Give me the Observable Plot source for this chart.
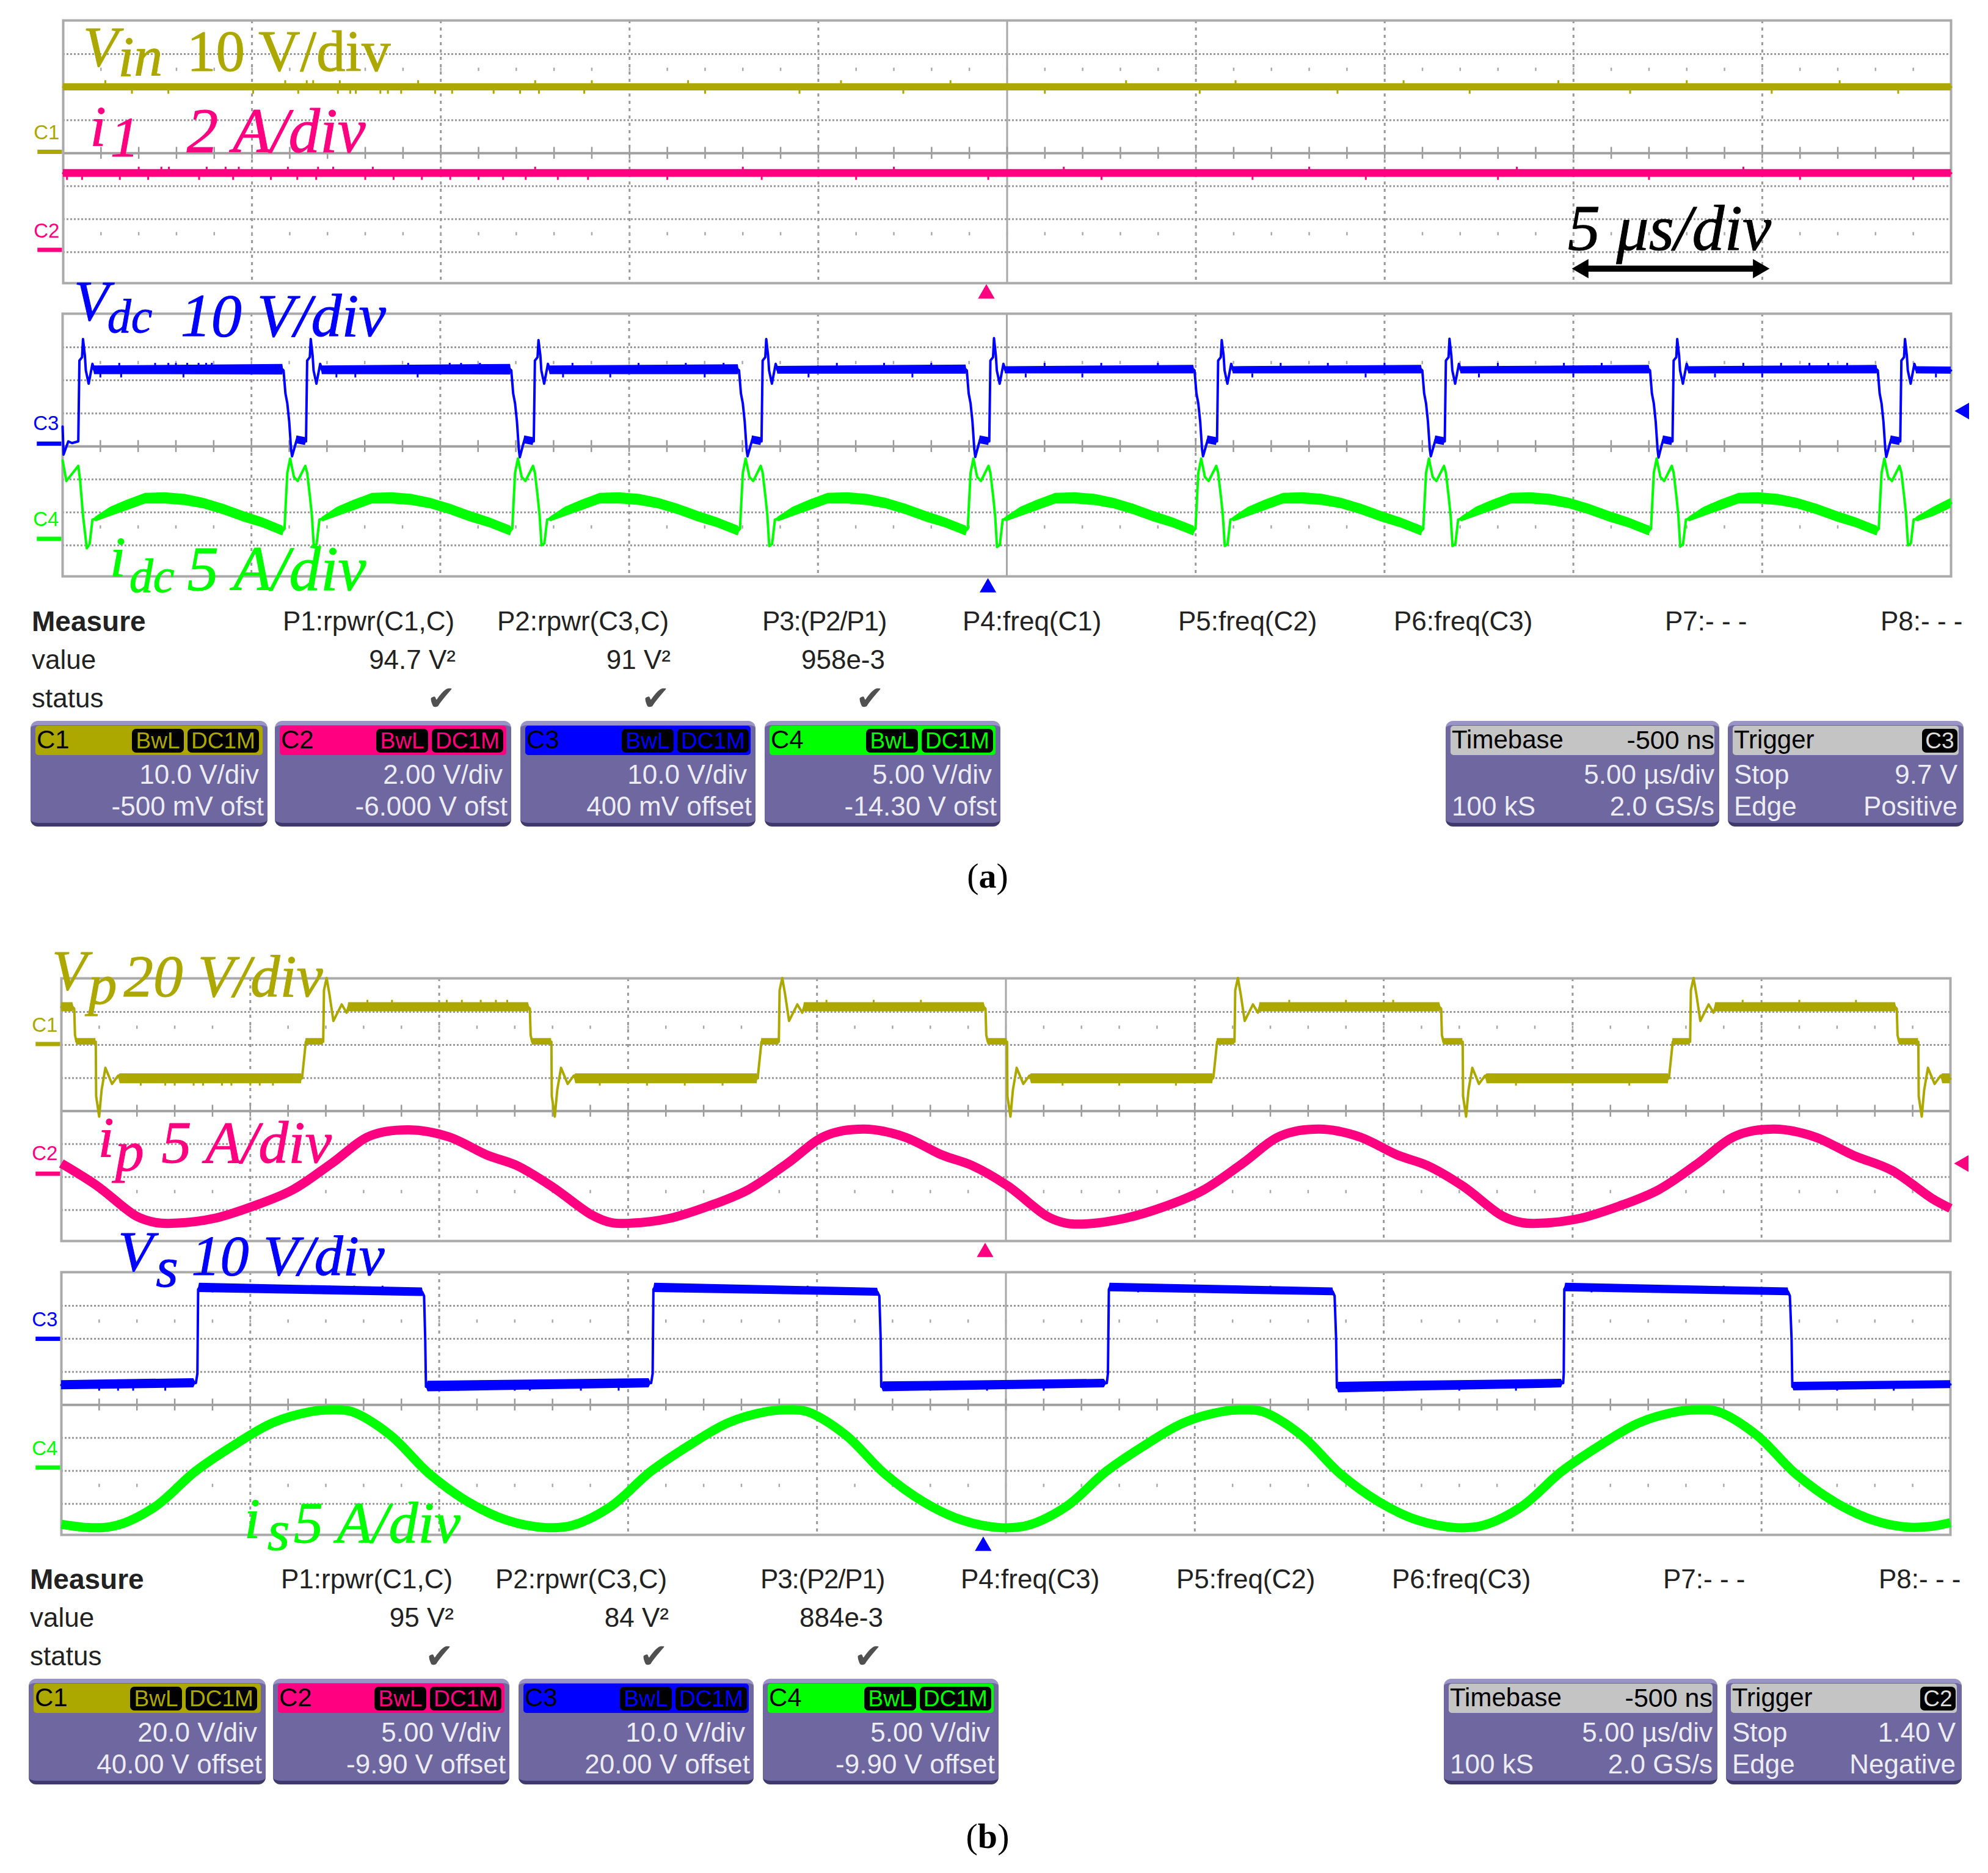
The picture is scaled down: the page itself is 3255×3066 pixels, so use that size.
<!DOCTYPE html>
<html>
<head>
<meta charset="utf-8">
<script src="https://cdn.jsdelivr.net/npm/d3@7"></script>
<script src="https://cdn.jsdelivr.net/npm/@observablehq/plot@0.6"></script>
<style>
html, body { margin: 0; background: white; }
body { position: relative; width: 3255px; height: 3066px; overflow: hidden; font-family: "Liberation Sans", sans-serif; }
.scope { position: absolute; background: transparent; overflow: visible; }
.t { position: absolute; white-space: nowrap; line-height: 1; }
</style>
</head>
<body>
<script>
// all traces are [time in div, level in div, half width of the noisy band in div]

const vin = [[0, 2, .11], [10, 2, .11]]
const vinSpikesUp = [.223, 1.176, 1.29, 1.324, 1.465, 1.88, 2.5, 2.8, 3.31, 4.12, 4.7, 5.63, 6.21, 7.1, 7.92, 8.6, 9.41]
const vinSpikesDown = [.364, .557, 1.006, 1.245, 1.455, 1.52, 1.55, 1.68, 1.72, 1.79, 1.97, 2.06, 2.28, 2.42, 2.52, 2.76, 3.4, 3.9, 4.45, 5.2, 6.02, 6.75, 7.45, 8.3, 9.05, 9.72]
const i1 = [[0, -.61, .12], [10, -.61, .12]]
const i1SpikesUp = [.4, .52, .56, .76, .86, .93, 1.19, 1.35, 1.43, 1.64, 2.5, 3.6, 4.4, 5.3, 6.6, 7.7, 8.9]
const i1SpikesDown = [.02, .1, .3, .45, .72, .9, 1.1, 1.24, 1.34, 1.6, 1.75, 1.9, 2.05, 2.2, 2.33, 2.45, 2.62, 2.78, 3.2, 3.7, 4.2, 4.9, 5.5, 6.3, 6.9, 7.6, 8.4, 9.2, 9.8]

const vdc = [
  [0, .6], [.005, -.25], [.03, .15], [.05, .1],
  [.083, .15], [.089, 2.6], [.103, 2.7], [.108, 3.25], [.118, 2.75], [.123, 2.3], [.138, 1.9], [.148, 2.2], [.158, 2.5], [.168, 2.31, .13],
  [1.165, 2.33, .16], [1.17, 2.3], [1.18, 1.6], [1.19, 1.3], [1.2, .75], [1.21, -.1], [1.215, -.3], [1.23, 0], [1.24, .2, .12], [1.285, .15, .12],
  [1.289, .15], [1.295, 2.6], [1.309, 2.7], [1.314, 3.25], [1.324, 2.75], [1.329, 2.3], [1.344, 1.9], [1.354, 2.2], [1.364, 2.5], [1.374, 2.31, .13],
  [2.371, 2.33, .16], [2.376, 2.3], [2.386, 1.6], [2.396, 1.3], [2.406, .75], [2.416, -.1], [2.421, -.33], [2.436, 0], [2.446, .2, .12], [2.491, .15, .12],
  [2.495, .15], [2.501, 2.6], [2.515, 2.7], [2.52, 3.22], [2.53, 2.75], [2.535, 2.3], [2.55, 1.9], [2.56, 2.2], [2.57, 2.5], [2.58, 2.31, .13],
  [3.577, 2.33, .15], [3.582, 2.3], [3.592, 1.6], [3.602, 1.3], [3.612, .75], [3.622, -.1], [3.627, -.3], [3.642, 0], [3.652, .2, .12], [3.697, .15, .12],
  [3.701, .15], [3.707, 2.6], [3.721, 2.7], [3.726, 3.25], [3.736, 2.75], [3.741, 2.3], [3.756, 1.9], [3.766, 2.2], [3.776, 2.5], [3.786, 2.31, .12],
  [4.783, 2.33, .14], [4.788, 2.3], [4.798, 1.6], [4.808, 1.3], [4.818, .75], [4.828, -.1], [4.833, -.32], [4.848, 0], [4.858, .2, .12], [4.903, .15, .12],
  [4.907, .15], [4.913, 2.6], [4.927, 2.7], [4.932, 3.28], [4.942, 2.75], [4.947, 2.3], [4.962, 1.9], [4.972, 2.2], [4.982, 2.5], [4.992, 2.31, .11],
  [5.989, 2.33, .13], [5.994, 2.3], [6.004, 1.6], [6.014, 1.3], [6.024, .75], [6.034, -.1], [6.039, -.3], [6.054, 0], [6.064, .2, .12], [6.109, .15, .12],
  [6.113, .15], [6.119, 2.6], [6.133, 2.7], [6.138, 3.22], [6.148, 2.75], [6.153, 2.3], [6.168, 1.9], [6.178, 2.2], [6.188, 2.5], [6.198, 2.31, .11],
  [7.195, 2.33, .13], [7.2, 2.3], [7.21, 1.6], [7.22, 1.3], [7.23, .75], [7.24, -.1], [7.245, -.3], [7.26, 0], [7.27, .2, .12], [7.315, .15, .12],
  [7.319, .15], [7.325, 2.6], [7.339, 2.7], [7.344, 3.26], [7.354, 2.75], [7.359, 2.3], [7.374, 1.9], [7.384, 2.2], [7.394, 2.5], [7.404, 2.31, .11],
  [8.401, 2.33, .13], [8.406, 2.3], [8.416, 1.6], [8.426, 1.3], [8.436, .75], [8.446, -.1], [8.451, -.34], [8.466, 0], [8.476, .2, .12], [8.521, .15, .12],
  [8.525, .15], [8.531, 2.6], [8.545, 2.7], [8.55, 3.25], [8.56, 2.75], [8.565, 2.3], [8.58, 1.9], [8.59, 2.2], [8.6, 2.5], [8.61, 2.31, .11],
  [9.607, 2.33, .13], [9.612, 2.3], [9.622, 1.6], [9.632, 1.3], [9.642, .75], [9.652, -.1], [9.657, -.32], [9.672, 0], [9.682, .2, .12], [9.727, .15, .12],
  [9.731, .15], [9.737, 2.6], [9.751, 2.7], [9.756, 3.25], [9.766, 2.75], [9.771, 2.3], [9.786, 1.9], [9.796, 2.2], [9.806, 2.5], [9.816, 2.31, .11], [10, 2.3, .11]
]
const vdcSpikesUp = [.3, .49, .56, .6, .66, .72, .76, .79, 1.83, 2.05, 2.11, 2.21, 2.7, 3.05, 3.3, 3.5, 4.1, 4.35, 4.6, 5.2, 5.5, 5.8, 6.45, 6.7, 7.0, 7.6, 7.95, 8.15, 8.9, 9.1, 9.25, 9.35, 9.45]
const vdcSpikesDown = [.2, .31, .64, 1.45, 1.55, 1.88, 2.65, 2.9, 3.4, 3.95, 4.5, 5.1, 5.4, 6.3, 6.9, 7.5, 8.0, 8.75, 9.0, 9.92]

const idc = [
  [0, -.43], [.02, -1.05], [.083, -.59], [.093, -1.05], [.108, -2.1], [.128, -3.09], [.143, -2.96], [.158, -2.22],
  [.178, -2.2, .08], [.253, -1.98, .14], [.338, -1.79, .16], [.438, -1.58, .16], [.543, -1.57, .17], [.648, -1.62, .17], [.748, -1.73, .16], [.853, -1.91, .16], [.958, -2.13, .16], [1.058, -2.31, .15],
  [1.165, -2.56, .15], [1.175, -2.5], [1.18, -1.91], [1.19, -.8], [1.205, -.37], [1.225, -.93], [1.245, -1.05], [1.285, -.59], [1.295, -.8], [1.31, -1.54], [1.32, -2.1], [1.33, -3.02], [1.345, -2.96], [1.36, -2.22],
  [1.38, -2.2, .08], [1.455, -1.98, .14], [1.54, -1.79, .16], [1.64, -1.58, .16], [1.745, -1.57, .17], [1.85, -1.62, .17], [1.95, -1.73, .16], [2.055, -1.91, .16], [2.16, -2.13, .16], [2.26, -2.31, .15],
  [2.371, -2.56, .15], [2.381, -2.5], [2.386, -1.91], [2.396, -.8], [2.411, -.37], [2.431, -.93], [2.451, -1.05], [2.491, -.59], [2.501, -.8], [2.516, -1.54], [2.526, -2.1], [2.536, -3], [2.551, -2.94], [2.566, -2.22],
  [2.586, -2.2, .08], [2.661, -1.98, .14], [2.746, -1.79, .16], [2.846, -1.58, .16], [2.951, -1.57, .17], [3.056, -1.62, .17], [3.156, -1.73, .16], [3.261, -1.91, .16], [3.366, -2.13, .16], [3.466, -2.31, .15],
  [3.577, -2.56, .15], [3.587, -2.5], [3.592, -1.91], [3.602, -.8], [3.617, -.37], [3.637, -.93], [3.657, -1.05], [3.697, -.59], [3.707, -.8], [3.722, -1.54], [3.732, -2.1], [3.742, -3.02], [3.757, -2.96], [3.772, -2.22],
  [3.792, -2.2, .08], [3.867, -1.98, .14], [3.952, -1.79, .16], [4.052, -1.58, .16], [4.157, -1.57, .17], [4.262, -1.62, .17], [4.362, -1.73, .16], [4.467, -1.91, .16], [4.572, -2.13, .16], [4.672, -2.31, .15],
  [4.783, -2.56, .15], [4.793, -2.5], [4.798, -1.91], [4.808, -.8], [4.823, -.37], [4.843, -.93], [4.863, -1.05], [4.903, -.59], [4.913, -.8], [4.928, -1.54], [4.938, -2.1], [4.948, -3.05], [4.963, -2.98], [4.978, -2.22],
  [4.998, -2.2, .08], [5.073, -1.98, .14], [5.158, -1.79, .16], [5.258, -1.58, .16], [5.363, -1.57, .17], [5.468, -1.62, .17], [5.568, -1.73, .16], [5.673, -1.91, .16], [5.778, -2.13, .16], [5.878, -2.31, .15],
  [5.989, -2.56, .15], [5.999, -2.5], [6.004, -1.91], [6.014, -.8], [6.029, -.37], [6.049, -.93], [6.069, -1.05], [6.109, -.59], [6.119, -.8], [6.134, -1.54], [6.144, -2.1], [6.154, -3.02], [6.169, -2.96], [6.184, -2.22],
  [6.204, -2.2, .08], [6.279, -1.98, .14], [6.364, -1.79, .16], [6.464, -1.58, .16], [6.569, -1.57, .17], [6.674, -1.62, .17], [6.774, -1.73, .16], [6.879, -1.91, .16], [6.984, -2.13, .16], [7.084, -2.31, .15],
  [7.195, -2.56, .15], [7.205, -2.5], [7.21, -1.91], [7.22, -.8], [7.235, -.37], [7.255, -.93], [7.275, -1.05], [7.315, -.59], [7.325, -.8], [7.34, -1.54], [7.35, -2.1], [7.36, -3.02], [7.375, -2.96], [7.39, -2.22],
  [7.41, -2.2, .08], [7.485, -1.98, .14], [7.57, -1.79, .16], [7.67, -1.58, .16], [7.775, -1.57, .17], [7.88, -1.62, .17], [7.98, -1.73, .16], [8.085, -1.91, .16], [8.19, -2.13, .16], [8.29, -2.31, .15],
  [8.401, -2.56, .15], [8.411, -2.5], [8.416, -1.91], [8.426, -.8], [8.441, -.37], [8.461, -.93], [8.481, -1.05], [8.521, -.59], [8.531, -.8], [8.546, -1.54], [8.556, -2.1], [8.566, -3.04], [8.581, -2.96], [8.596, -2.22],
  [8.616, -2.2, .08], [8.691, -1.98, .14], [8.776, -1.79, .16], [8.876, -1.58, .16], [8.981, -1.57, .17], [9.086, -1.62, .17], [9.186, -1.73, .16], [9.291, -1.91, .16], [9.396, -2.13, .16], [9.496, -2.31, .15],
  [9.607, -2.56, .15], [9.617, -2.5], [9.622, -1.91], [9.632, -.8], [9.647, -.37], [9.667, -.93], [9.687, -1.05], [9.727, -.59], [9.737, -.8], [9.752, -1.54], [9.762, -2.1], [9.772, -3], [9.787, -2.94], [9.802, -2.22],
  [9.822, -2.2, .08], [9.907, -1.98, .14], [10, -1.72, .15]
]

const vp = [
  [0, 3.15, .14], [.06, 3.15, .14], [.068, 3.1], [.072, 2.3], [.08, 2.1, .1], [.182, 2.1, .1], [.184, .45], [.2, -.17], [.213, .64], [.233, 1.31], [.268, .82], [.3, 1.07], [.31, .98, .15], [1.27, .98, .15],
  [1.274, 1], [1.294, 2.1, .1], [1.386, 2.1, .1], [1.39, 3.66], [1.404, 4.03], [1.419, 3.54], [1.44, 2.73], [1.484, 3.23], [1.51, 2.98], [1.52, 3.15, .14], [2.472, 3.15, .14],
  [2.48, 3.1], [2.484, 2.3], [2.492, 2.1, .1], [2.594, 2.1, .1], [2.596, .45], [2.612, -.17], [2.625, .64], [2.645, 1.31], [2.68, .82], [2.712, 1.07], [2.722, .98, .15], [3.682, .98, .15],
  [3.686, 1], [3.706, 2.1, .1], [3.798, 2.1, .1], [3.802, 3.66], [3.816, 4.03], [3.831, 3.54], [3.852, 2.73], [3.896, 3.23], [3.922, 2.98], [3.932, 3.15, .14], [4.884, 3.15, .14],
  [4.892, 3.1], [4.896, 2.3], [4.904, 2.1, .1], [5.006, 2.1, .1], [5.008, .45], [5.024, -.17], [5.037, .64], [5.057, 1.31], [5.092, .82], [5.124, 1.07], [5.134, .98, .15], [6.094, .98, .15],
  [6.098, 1], [6.118, 2.1, .1], [6.21, 2.1, .1], [6.214, 3.66], [6.228, 4.03], [6.243, 3.54], [6.264, 2.73], [6.308, 3.23], [6.334, 2.98], [6.344, 3.15, .14], [7.296, 3.15, .14],
  [7.304, 3.1], [7.308, 2.3], [7.316, 2.1, .1], [7.418, 2.1, .1], [7.42, .45], [7.436, -.17], [7.449, .64], [7.469, 1.31], [7.504, .82], [7.536, 1.07], [7.546, .98, .15], [8.506, .98, .15],
  [8.51, 1], [8.53, 2.1, .1], [8.622, 2.1, .1], [8.626, 3.66], [8.64, 4.03], [8.655, 3.54], [8.676, 2.73], [8.72, 3.23], [8.746, 2.98], [8.756, 3.15, .14], [9.708, 3.15, .14],
  [9.716, 3.1], [9.72, 2.3], [9.728, 2.1, .1], [9.83, 2.1, .1], [9.832, .45], [9.848, -.17], [9.861, .64], [9.881, 1.31], [9.916, .82], [9.948, 1.07], [9.958, .98, .15], [10, .98, .15]
]
const vpSpikesHigh = [1.62, 1.75, 2.04, 2.12, 2.22, 2.3, 2.36, 4.05, 4.3, 4.55, 6.5, 6.8, 7.05, 8.9, 9.2, 9.5]
const vpSpikesLow = [.42, .55, .6, .7, .75, .85, .9, 1.0, 1.05, 1.12, 2.85, 3.1, 3.3, 3.5, 5.3, 5.6, 5.9, 7.7, 8.0, 8.3]

const ip = [
  [0, -1.59], [.19, -2.27], [.398, -3.19], [.5, -3.38], [.605, -3.4], [.811, -3.25], [1.017, -2.88], [1.224, -2.39], [1.43, -1.59], [1.636, -.75], [1.84, -.57], [2.05, -.78], [2.255, -1.34],
  [2.41, -1.65], [2.6, -2.3], [2.808, -3.15], [2.91, -3.38], [3.015, -3.4], [3.221, -3.25], [3.427, -2.88], [3.634, -2.39], [3.84, -1.6], [4.046, -.75], [4.25, -.55], [4.46, -.78], [4.665, -1.34],
  [4.82, -1.65], [5.01, -2.27], [5.218, -3.19], [5.32, -3.4], [5.425, -3.42], [5.631, -3.25], [5.837, -2.9], [6.044, -2.4], [6.25, -1.6], [6.456, -.75], [6.66, -.55], [6.87, -.78], [7.075, -1.34],
  [7.23, -1.65], [7.42, -2.28], [7.628, -3.18], [7.73, -3.38], [7.835, -3.4], [8.041, -3.25], [8.247, -2.88], [8.454, -2.39], [8.66, -1.6], [8.866, -.75], [9.07, -.55], [9.28, -.78], [9.485, -1.34], [9.69, -1.8], [9.9, -2.64], [10, -2.95]
]

const vs = [
  [0, .6, .14], [.7, .66, .14], [.712, .66], [.72, .95], [.724, 3.5], [.73, 3.55, .14], [1.91, 3.42, .13], [1.92, 3.3], [1.926, 2], [1.93, .55], [1.94, .56, .16], [3.11, .66, .14],
  [3.122, .66], [3.13, .95], [3.134, 3.5], [3.14, 3.55, .14], [4.32, 3.42, .12], [4.33, 3.3], [4.337, 2], [4.34, .55], [4.35, .55, .15], [5.52, .65, .13],
  [5.534, .66], [5.54, .95], [5.545, 3.5], [5.55, 3.56, .13], [6.73, 3.43, .12], [6.74, 3.3], [6.748, 2], [6.752, .52], [6.76, .53, .16], [7.94, .65, .13],
  [7.95, .66], [7.953, .95], [7.956, 3.5], [7.962, 3.56, .13], [9.14, 3.43, .12], [9.15, 3.3], [9.159, 2], [9.163, .55], [9.17, .56, .13], [10, .62, .12]
]
const vsSpikesHigh = [.8, .96, 1.1, 1.27, 1.42, 1.55, 1.7, 3.3, 3.6, 3.95, 5.7, 6.1, 6.4, 8.1, 8.4, 8.8]
const vsSpikesLow = [.2, .3, .38, .55, 2.1, 2.4, 2.48, 2.75, 2.95, 4.6, 4.9, 5.2, 7.1, 7.4, 7.7, 9.4, 9.7]

const is = [
  [0, -3.62], [.15, -3.72], [.295, -3.65], [.5, -3.07], [.708, -2.02], [.914, -1.22], [1.12, -.54], [1.327, -.2], [1.43, -.15], [1.534, -.2], [1.74, -.91], [1.946, -2.08], [2.153, -2.94], [2.36, -3.5],
  [2.565, -3.72], [2.706, -3.65], [2.911, -3.07], [3.119, -2.02], [3.325, -1.22], [3.531, -.54], [3.738, -.2], [3.841, -.15], [3.945, -.2], [4.151, -.91], [4.357, -2.08], [4.564, -2.94], [4.771, -3.5],
  [4.97, -3.72], [5.117, -3.65], [5.322, -3.07], [5.53, -2.02], [5.736, -1.22], [5.942, -.54], [6.149, -.2], [6.252, -.15], [6.356, -.2], [6.562, -.91], [6.768, -2.08], [6.975, -2.94], [7.182, -3.5],
  [7.383, -3.72], [7.528, -3.65], [7.733, -3.07], [7.941, -2.02], [8.147, -1.22], [8.353, -.54], [8.56, -.2], [8.663, -.15], [8.767, -.2], [8.973, -.91], [9.179, -2.08], [9.386, -2.94], [9.593, -3.5], [9.76, -3.7], [9.9, -3.68], [10, -3.57]
]

const measureHeadA = ['P1:rpwr(C1,C)', 'P2:rpwr(C3,C)', 'P3:(P2/P1)', 'P4:freq(C1)', 'P5:freq(C2)', 'P6:freq(C3)', 'P7:- - -', 'P8:- - -']
const measureHeadB = ['P1:rpwr(C1,C)', 'P2:rpwr(C3,C)', 'P3:(P2/P1)', 'P4:freq(C3)', 'P5:freq(C2)', 'P6:freq(C3)', 'P7:- - -', 'P8:- - -']
const measureValueA = ['94.7 V²', '91 V²', '958e-3']
const measureValueB = ['95 V²', '84 V²', '884e-3']
const channelNames = ['C1', 'C2', 'C3', 'C4']
const channelScaleA = ['10.0 V/div', '2.00 V/div', '10.0 V/div', '5.00 V/div']
const channelOffsetA = ['-500 mV ofst', '-6.000 V ofst', '400 mV offset', '-14.30 V ofst']
const channelScaleB = ['20.0 V/div', '5.00 V/div', '10.0 V/div', '5.00 V/div']
const channelOffsetB = ['40.00 V offset', '-9.90 V offset', '20.00 V offset', '-9.90 V offset']

const OLIVE = '#ada800', PINK = '#ff0080', BLUE = '#0000ff', GREEN = '#00ff00'
const SERIF = '"Liberation Serif", serif'

const rows = trace => trace.map(([t, v, h]) => ({t, v, lo: v - (h || 0), hi: v + (h || 0)}))

// thin line for the edges, area for the noisy flat parts
function traceMarks(trace, color) {
  const data = rows(trace)
  return [
    Plot.areaY(data, {x: 't', y1: 'lo', y2: 'hi', fill: color}),
    Plot.line(data, {x: 't', y: 'v', stroke: color, strokeWidth: 4})
  ]
}

const smoothTrace = (trace, color) =>
  Plot.line(rows(trace), {x: 't', y: 'v', stroke: color, strokeWidth: 15, curve: 'catmull-rom', strokeLinecap: 'butt'})

const spikes = (times, y1, y2, color) => Plot.ruleX(times, {x: d => d, y1, y2, stroke: color, strokeWidth: 3})

function gridMarks() {
  const minor = d3.range(1, 50).map(d => d / 5)
  return [
    Plot.ruleY([-3, -2, -1, 1, 2, 3], {stroke: '#999', strokeWidth: 3, strokeDasharray: '3 3'}),
    Plot.ruleX([1, 2, 3, 4, 6, 7, 8, 9], {stroke: '#999', strokeWidth: 3, strokeDasharray: '5 7'}),
    Plot.ruleX([5], {stroke: '#a8a8a8', strokeWidth: 3}),
    Plot.ruleX(minor, {x: d => d, y1: 2.48, y2: 2.58, stroke: '#aaa', strokeWidth: 2.5}),
    Plot.ruleX(minor, {x: d => d, y1: -2.5, y2: -2.4, stroke: '#aaa', strokeWidth: 2.5}),
    Plot.ruleX(minor, {x: d => d, y1: -.18, y2: .18, stroke: '#999', strokeWidth: 2.5}),
    Plot.ruleY([0], {stroke: '#a0a0a0', strokeWidth: 4}),
    Plot.frame({stroke: '#aaa', strokeWidth: 4})
  ]
}

const word = (text, x, y, color, italic = true, size = 94) =>
  Plot.text([text], {text: d => d, x, y, fill: color, stroke: color, strokeWidth: 1, fontFamily: SERIF, fontSize: size, fontStyle: italic ? 'italic' : 'normal', textAnchor: 'start', lineAnchor: 'bottom'})

// channel tag left of the frame
const tag = (name, labelY, markY, color) => [
  Plot.text([name], {text: d => d, x: -.02, y: labelY, fill: color, fontSize: 33, textAnchor: 'end', fontFamily: '"Liberation Sans", sans-serif'}),
  Plot.ruleY([markY], {x1: -.135, x2: -.005, stroke: color, strokeWidth: 7})
]

const marker = (x, y, color, rotate, r = 13) => Plot.dot([0], {x, y, r, symbol: 'triangle2', fill: color, rotate})

function scope(left, top, right, marks) {
  const chart = Plot.plot({
    width: 3255, height: 474,
    marginLeft: left, marginRight: 3255 - right, marginTop: 4, marginBottom: 40,
    x: {domain: [0, 10], axis: null},
    y: {domain: [-3.94, 4.02], axis: null},
    marks: [gridMarks(), marks]
  })
  chart.classList.add('scope')
  chart.style.left = '0px'
  chart.style.top = (top - 4) + 'px'
  chart.style.background = 'transparent'
  chart.style.maxWidth = 'none'
  chart.style.overflow = 'visible'
  document.body.append(chart)
}

scope(103, 33, 3194, [
  traceMarks(vin, OLIVE), spikes(vinSpikesUp, 2.1, 2.2, OLIVE), spikes(vinSpikesDown, 1.9, 1.79, OLIVE),
  traceMarks(i1, PINK), spikes(i1SpikesUp, -.5, -.42, PINK), spikes(i1SpikesDown, -.72, -.82, PINK),
  tag('C1', .62, .04, OLIVE), tag('C2', -2.37, -2.93, PINK),
  word('V', .105, 2.65, OLIVE), word('in', .29, 2.35, OLIVE), word('10 V/div', .655, 2.5, OLIVE, false, 95),
  word('i', .142, .24, PINK), word('1', .25, -.09, PINK), word('2 A/div', .654, .04, PINK, true, 103),
  word('5 μs/div', 7.97, -2.94, 'black', true, 106),
  Plot.ruleY([-3.5], {x1: 8.05, x2: 8.98, stroke: 'black', strokeWidth: 10}),
  marker(8.05, -3.5, 'black', -90, 15), marker(8.98, -3.5, 'black', 90, 15),
  marker(4.89, -4.26, PINK, 0)
])

scope(102, 513, 3194, [
  traceMarks(vdc, BLUE), spikes(vdcSpikesUp, 2.4, 2.52, BLUE), spikes(vdcSpikesDown, 2.2, 2.08, BLUE),
  traceMarks(idc, GREEN),
  tag('C3', .68, .08, BLUE), tag('C4', -2.22, -2.8, GREEN),
  word('V', .06, 3.83, BLUE), word('dc', .237, 3.46, BLUE, true, 78), word('10 V/div', .625, 3.35, BLUE, true, 100),
  word('i', .25, -3.93, GREEN), word('dc', .353, -4.41, GREEN, true, 78), word('5 A/div', .66, -4.35, GREEN, true, 103),
  marker(4.9, -4.28, BLUE, 0), marker(10.07, 1.07, BLUE, -90)
])

scope(100, 1601, 3193, [
  traceMarks(vp, OLIVE), spikes(vpSpikesHigh, 3.25, 3.36, OLIVE), spikes(vpSpikesLow, .88, .76, OLIVE),
  smoothTrace(ip, PINK),
  tag('C1', 2.6, 2.03, OLIVE), tag('C2', -1.3, -1.9, PINK),
  word('V', -.05, 3.67, OLIVE), word('p', .142, 3.26, OLIVE), word('20 V/div', .33, 3.48, OLIVE, true, 97),
  word('i', .194, -1.37, PINK), word('p', .285, -1.8, PINK), word('5 A/div', .53, -1.56, PINK, true, 98),
  marker(4.89, -4.28, PINK, 0), marker(10.07, -1.59, PINK, -90)
])

scope(100, 2082, 3193, [
  traceMarks(vs, BLUE), spikes(vsSpikesHigh, 3.4, 3.6, BLUE), spikes(vsSpikesLow, .55, .42, BLUE),
  smoothTrace(is, GREEN),
  tag('C3', 2.58, 2, BLUE), tag('C4', -1.32, -1.9, GREEN),
  word('V', .3, 4.07, BLUE), word('s', .5, 3.59, BLUE), word('10 V/div', .689, 3.93, BLUE),
  word('i', .968, -4.02, GREEN), word('s', 1.09, -4.39, GREEN), word('5 A/div', 1.23, -4.17, GREEN, true, 96),
  marker(4.88, -4.28, BLUE, 0)
])

// scope read-out below each picture, plain html
function put(parent, text, left, top, opts = {}) {
  const el = document.createElement('div')
  el.className = 't'
  el.textContent = text
  el.style.left = left + 'px'
  el.style.top = top + 'px'
  el.style.fontSize = (opts.size || 44) + 'px'
  el.style.color = opts.color || '#222'
  if (opts.bold) el.style.fontWeight = 'bold'
  if (opts.font) el.style.fontFamily = opts.font
  if (opts.spacing) el.style.letterSpacing = opts.spacing + 'px'
  el.style.transform = `translate(${opts.right ? '-100%' : '0'}, -50%)`
  parent.append(el)
  return el
}

function box(left, top, width, headColor) {
  const el = document.createElement('div')
  el.style.cssText = `position:absolute;left:${left}px;top:${top}px;width:${width}px;height:173px;box-sizing:border-box;background:#6f67a0;border-radius:12px;border-top:7px solid #9a93c6;border-bottom:6px solid #3f3a6b;`
  const head = document.createElement('div')
  head.style.cssText = `position:absolute;left:8px;right:8px;top:1px;height:48px;background:${headColor};border-radius:5px;`
  el.append(head)
  document.body.append(el)
  return el
}

function chip(parent, text, left, width, color) {
  const el = document.createElement('div')
  el.textContent = text
  el.style.cssText = `position:absolute;left:${left}px;width:${width}px;top:6px;height:39px;line-height:39px;text-align:center;background:#000;color:${color};border-radius:7px;font-size:37px;`
  parent.append(el)
}

function readout(dy, dx, heads, values, scales, offsets, triggerChannel, triggerLevel, triggerSlope) {
  const colors = [OLIVE, PINK, BLUE, GREEN]
  const headLeft = [463, 814, 1248, 1576, 1929, 2282, 2726, 3079]
  const valueRight = [746, 1098, 1449]
  const checkRight = [746, 1097, 1448]
  const boxLeft = [50, 450, 852, 1252]
  const boxWidth = [388, 387, 385, 386]
  const light = {color: '#ececf4', size: 44}
  put(document.body, 'Measure', 52 + dx, 1017 + dy, {bold: true, size: 46})
  put(document.body, 'value', 52 + dx, 1080 + dy)
  put(document.body, 'status', 52 + dx, 1143 + dy)
  heads.forEach((h, i) => put(document.body, h, headLeft[i] + dx, 1017 + dy, {spacing: i == 2 ? -1.2 : 0}))
  values.forEach((v, i) => {
    put(document.body, v, valueRight[i] + dx, 1080 + dy, {right: true})
    put(document.body, '✔', checkRight[i] + dx, 1143 + dy, {right: true, color: '#505050', size: 56, font: '"DejaVu Sans", sans-serif'})
  })
  channelNames.forEach((name, i) => {
    const b = box(boxLeft[i] + dx, 1180 + dy, boxWidth[i], colors[i])
    put(b, name, 10, 24, {color: '#000', size: 42})
    chip(b, 'BwL', 166, 85, colors[i])
    chip(b, 'DC1M', 257, 117, colors[i])
    put(b, scales[i], boxWidth[i] - 14, 81, {right: true, ...light})
    put(b, offsets[i], boxWidth[i] - 6, 133, {right: true, ...light})
  })
  const tb = box(2367 + dx, 1180 + dy, 448, '#c4c4c4')
  put(tb, 'Timebase', 10, 24, {color: '#000', size: 42})
  put(tb, '-500 ns', 440, 24, {right: true, color: '#000', size: 43})
  put(tb, '5.00 µs/div', 440, 81, {right: true, ...light})
  put(tb, '100 kS', 10, 133, light)
  put(tb, '2.0 GS/s', 440, 133, {right: true, ...light})
  const tr = box(2829 + dx, 1180 + dy, 386, '#c4c4c4')
  put(tr, 'Trigger', 10, 24, {color: '#000', size: 42})
  chip(tr, triggerChannel, 318, 58, '#ddd')
  put(tr, 'Stop', 10, 81, light)
  put(tr, triggerLevel, 376, 81, {right: true, ...light})
  put(tr, 'Edge', 10, 133, light)
  put(tr, triggerSlope, 376, 133, {right: true, ...light})
}

readout(0, 0, measureHeadA, measureValueA, channelScaleA, channelOffsetA, 'C3', '9.7 V', 'Positive')
readout(1568, -3, measureHeadB, measureValueB, channelScaleB, channelOffsetB, 'C2', '1.40 V', 'Negative')

function caption(letter, top) {
  const el = put(document.body, '', 1617, top, {size: 58, color: '#000', font: SERIF})
  el.style.transform = 'translate(-50%, -50%)'
  el.append('(')
  const b = document.createElement('b')
  b.textContent = letter
  el.append(b, ')')
}
caption('a', 1434)
caption('b', 3006)
</script>
</body>
</html>
